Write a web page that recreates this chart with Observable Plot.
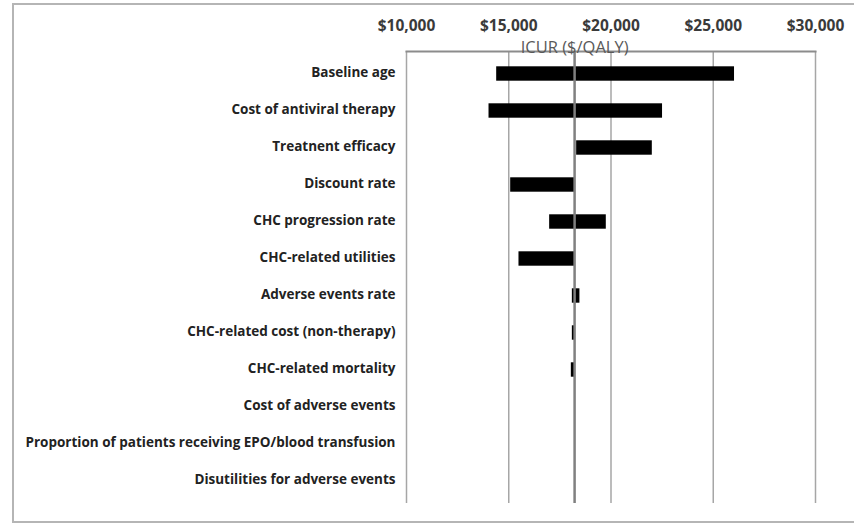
<!DOCTYPE html>
<html><head><meta charset="utf-8">
<script src="https://cdn.jsdelivr.net/npm/d3@7"></script>
<script src="https://cdn.jsdelivr.net/npm/@observablehq/plot@0.6"></script>
<style>
html,body{margin:0;padding:0;background:#fff;}
#wrap{position:relative;width:860px;height:525px;overflow:hidden;}
#wrap svg{position:absolute;left:0;top:0;}
#frame{position:absolute;left:12px;top:3px;width:840px;height:516px;border-top:2px solid #b5b5b5;border-left:2px solid #b5b5b5;border-bottom:2px solid #b5b5b5;pointer-events:none;}
</style></head><body>
<div id="wrap"><div id="frame"></div></div>
<script>
const parameters = [
  "Baseline age",
  "Cost of antiviral therapy",
  "Treatnent efficacy",
  "Discount rate",
  "CHC progression rate",
  "CHC-related utilities",
  "Adverse events rate",
  "CHC-related cost (non-therapy)",
  "CHC-related mortality",
  "Cost of adverse events",
  "Proportion of patients receiving EPO/blood transfusion",
  "Disutilities for adverse events"
];
const lowValues  = [14410, 14035, 18320, 15095, 17000, 15500, 18110, 18110, 18060, 18220, 18220, 18220];
const highValues = [26040, 22520, 22020, 18220, 19770, 18220, 18480, 18220, 18220, 18220, 18220, 18220];
const baseline = 18220;
const tickValues = [10000, 15000, 20000, 25000, 30000];
const axisTitle = "ICUR ($/QALY)";

const rows = parameters.map((p, i) => ({parameter: p, low: lowValues[i], high: highValues[i]}));

const chart = Plot.plot({
  width: 860, height: 525,
  marginLeft: 406, marginRight: 45, marginTop: 51, marginBottom: 22,
  style: {fontFamily: "'Open Sans', Lato, sans-serif", color: "#333", background: "transparent"},
  x: {domain: [10000, 30000]},
  y: {domain: parameters, padding: 0},
  marks: [
    Plot.gridX(tickValues, {stroke: "#a6a6a6", strokeOpacity: 1, strokeWidth: 1.5}),
    Plot.frame({anchor: "top", stroke: "#8c8c8c", strokeWidth: 2}),
    Plot.barX(rows, {y: "parameter", x1: "low", x2: "high", fill: "#000", insetTop: 11.3, insetBottom: 11.3}),
    Plot.ruleX([baseline], {stroke: "#808080", strokeWidth: 2.5}),
    Plot.axisX(tickValues, {anchor: "top", tickSize: 0, tickPadding: 21, tickFormat: d3.format("$,"), fontSize: 15.5, fontWeight: "bold", fill: "#3a3a3a", label: null}),
    Plot.axisY({tickSize: 0, tickPadding: 11, fontSize: 13.5, fontWeight: "bold", fill: "#222", label: null, dy: -1}),
    Plot.text([baseline], {x: d => d, text: () => axisTitle, frameAnchor: "top", dy: -10, fontSize: 16.5, fill: "#595959"})
  ]
});
document.getElementById("wrap").prepend(chart);
</script>
</body></html>
